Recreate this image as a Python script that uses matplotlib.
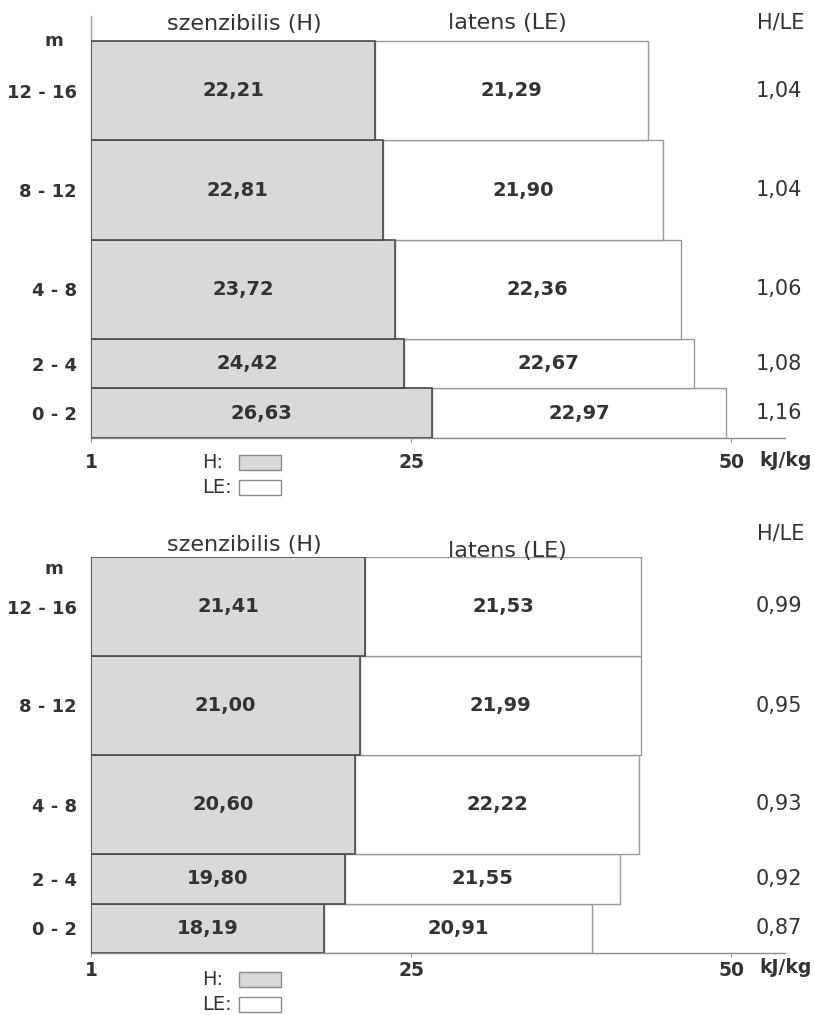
import matplotlib.pyplot as plt
from matplotlib.patches import Rectangle

# layers (m), bottom to top
layer_labels = ['0 - 2', '2 - 4', '4 - 8', '8 - 12', '12 - 16']
layer_bottom = [0, 2, 4, 8, 12]
layer_top = [2, 4, 8, 12, 16]

# upper panel
h_top = [26.63, 24.42, 23.72, 22.81, 22.21]
le_top = [22.97, 22.67, 22.36, 21.90, 21.29]
ratio_top = [1.16, 1.08, 1.06, 1.04, 1.04]

# lower panel
h_bot = [18.19, 19.80, 20.60, 21.00, 21.41]
le_bot = [20.91, 21.55, 22.22, 21.99, 21.53]
ratio_bot = [0.87, 0.92, 0.93, 0.95, 0.99]

xticks = [0, 25, 50]
xticklabels = ['1', '25', '50']

plt.rcParams['font.family'] = ['DejaVu Sans']
txt = '#333333'
h_col = '#d9d9d9'

fig = plt.figure(figsize=(8.14, 10.15), dpi=100)


def fmt(v):
    return f'{v:.2f}'.replace('.', ',')


def panel(rect, h, le, ratio, ytop, head_y, m_y, tick_pad, unit_y, leg_y):
    ax = fig.add_axes(rect)
    heights = [t - b for b, t in zip(layer_bottom, layer_top)]
    ax.barh(layer_bottom, h, height=heights, align='edge', color=h_col,
            edgecolor='#4a4a4a', linewidth=1.2, zorder=3)
    ax.barh(layer_bottom, le, height=heights, left=h, align='edge', color='white',
            edgecolor='#9a9a9a', linewidth=1.0, zorder=2)
    for b, hh, hv, lv, r in zip(layer_bottom, heights, h, le, ratio):
        yc = b + hh / 2
        ax.text(hv / 2, yc, fmt(hv), ha='center', va='center', fontsize=14,
                fontweight='bold', color=txt, zorder=5)
        ax.text(hv + lv / 2, yc, fmt(lv), ha='center', va='center', fontsize=14,
                fontweight='bold', color=txt, zorder=5)
        ax.text(53.75, yc, fmt(r), ha='center', va='center', fontsize=15, color=txt)

    ax.set_xlim(0, 54.2)
    ax.set_ylim(0, ytop)
    ax.set_xticks(xticks)
    ax.set_xticklabels(xticklabels, fontsize=13.5, fontweight='bold', color=txt)
    ax.tick_params(axis='x', length=3, width=0.8, color='#999999', pad=tick_pad)
    ax.set_yticks([(b + t) / 2 for b, t in zip(layer_bottom, layer_top)])
    ax.set_yticklabels(layer_labels, fontsize=13, fontweight='bold', color=txt)
    ax.tick_params(axis='y', length=0, pad=10)
    for s in ['top', 'right']:
        ax.spines[s].set_visible(False)
    ax.spines['left'].set_color('#9a9a9a')
    ax.spines['bottom'].set_color('#8a8a8a')
    ax.spines['left'].set_linewidth(1.0)
    ax.spines['bottom'].set_linewidth(1.0)
    ax.patch.set_alpha(0)

    ax.text(12.0, head_y[0], 'szenzibilis (H)', ha='center', va='center', fontsize=16, color=txt)
    ax.text(32.5, head_y[1], 'latens (LE)', ha='center', va='center', fontsize=16, color=txt)
    ax.text(53.9, head_y[2], 'H/LE', ha='center', va='center', fontsize=15, color=txt)
    ax.text(-2.9, m_y, 'm', ha='center', va='center', fontsize=13, fontweight='bold', color=txt)
    ax.text(52.2, unit_y, 'kJ/kg', ha='left', va='center', fontsize=13.5, fontweight='bold',
            color=txt, clip_on=False)

    # legend boxes
    for (y0, y1), lab, fc in zip(leg_y, ['H:', 'LE:'], [h_col, 'white']):
        ax.add_patch(Rectangle((11.56, y1), 3.28, y0 - y1, facecolor=fc, edgecolor='#8a8a8a',
                               linewidth=1.0, clip_on=False))
        ax.text(8.67, (y0 + y1) / 2, lab, ha='left', va='center', fontsize=14, color=txt)
    return ax


# upper panel: y=0 at px 438, 24.8 px per m
panel([91 / 814, (1015 - 438) / 1015, 694 / 814, 422 / 1015],
      h_top, le_top, ratio_top, 17.02,
      head_y=[16.71, 16.75, 16.75], m_y=16.0, tick_pad=8, unit_y=-0.89,
      leg_y=[(-0.69, -1.29), (-1.69, -2.30)])

# lower panel: y=0 at px 953, 24.75 px per m
panel([91 / 814, (1015 - 953) / 1015, 694 / 814, 396 / 1015],
      h_bot, le_bot, ratio_bot, 16.0,
      head_y=[16.5, 16.25, 16.95], m_y=15.5, tick_pad=3, unit_y=-0.58,
      leg_y=[(-0.77, -1.37), (-1.78, -2.39)])

fig.savefig('out.png', dpi=100, facecolor='white')
